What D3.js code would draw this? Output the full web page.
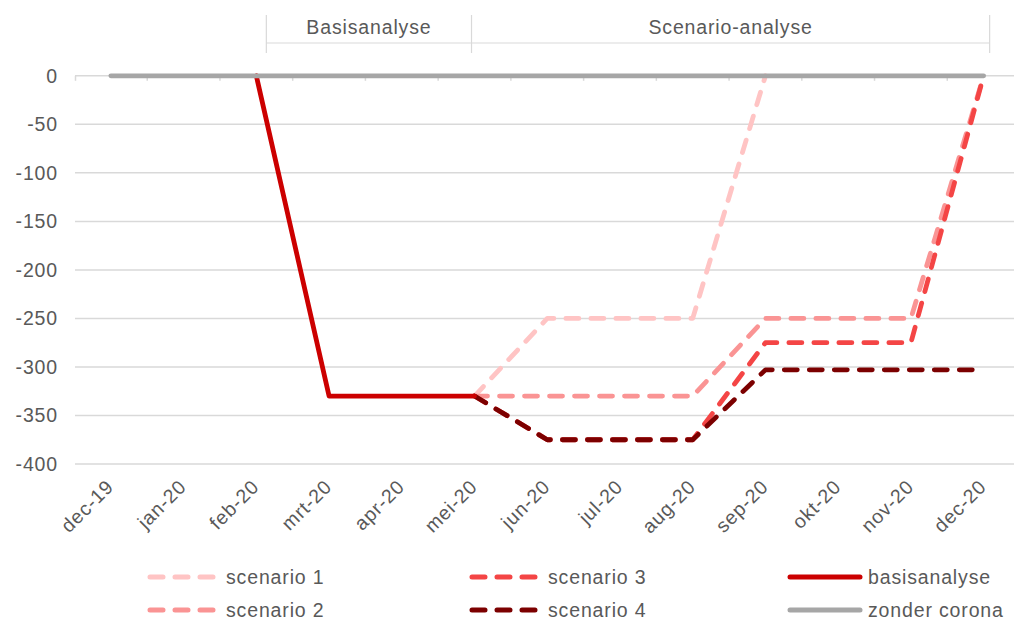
<!DOCTYPE html>
<html><head><meta charset="utf-8">
<script src="https://cdn.jsdelivr.net/npm/d3@7"></script>
<style>
html,body{margin:0;padding:0;background:#fff;}
svg{display:block;font-family:"Liberation Sans",Arial,sans-serif;}
svg text{letter-spacing:0.85px;}
</style></head>
<body><svg id="c" width="1014" height="622"></svg>
<script>
const months = ["dec-19","jan-20","feb-20","mrt-20","apr-20","mei-20","jun-20","jul-20","aug-20","sep-20","okt-20","nov-20","dec-20"];
const yTicks = [0,-50,-100,-150,-200,-250,-300,-350,-400];
const zonderCorona = [0,0,0,0,0,0,0,0,0,0,0,0,0];
const basisanalyse = [null,null,0,-330,-330,-330,null,null,null,null,null,null,null];
const scenario1 = [null,null,null,null,null,-330,-250,-250,-250,0,null,null,null];
const scenario2 = [null,null,null,null,null,-330,-330,-330,-330,-250,-250,-250,0];
const scenario3 = [null,null,null,null,null,-330,-375,-375,-375,-275,-275,-275,0];
const scenario4 = [null,null,null,null,null,-330,-375,-375,-375,-303,-303,-303,-303];
const seriesNames = ["scenario 1","scenario 2","scenario 3","scenario 4","basisanalyse","zonder corona"];
const sectionLabels = ["Basisanalyse","Scenario-analyse"];

const series = [
  {name:seriesNames[0], values:scenario1, color:"#ffc4c4", dash:true},
  {name:seriesNames[1], values:scenario2, color:"#fa9494", dash:true},
  {name:seriesNames[2], values:scenario3, color:"#f44545", dash:true},
  {name:seriesNames[3], values:scenario4, color:"#7c0000", dash:true},
  {name:seriesNames[4], values:basisanalyse, color:"#cc0000", dash:false},
  {name:seriesNames[5], values:zonderCorona, color:"#a6a6a6", dash:false}
];

const svg = d3.select("#c");
const textColor = "#595959", gridColor = "#d9d9d9";
const fs = "19.5px";
const x = d3.scaleBand().domain(months).range([74.5, 1020]).paddingInner(0).paddingOuter(0);
const xc = m => x(m) + x.bandwidth()/2;
const y = d3.scaleLinear().domain([-400,0]).range([464,75.8]);

// gridlines
svg.append("g").selectAll("line").data(yTicks).join("line")
  .attr("x1",75).attr("x2",1014).attr("y1",d=>y(d)).attr("y2",d=>y(d))
  .attr("stroke",gridColor).attr("stroke-width",1.5);

// y labels
svg.append("g").selectAll("text").data(yTicks).join("text")
  .attr("x",58).attr("y",d=>y(d)).attr("dy","0.35em").attr("text-anchor","end")
  .attr("fill",textColor).style("font-size",fs).text(d=>d);

// x axis ticks at band boundaries
const bounds = months.map(m=>x(m));
svg.append("g").selectAll("line").data(bounds).join("line")
  .attr("x1",d=>Math.max(d,75.5)).attr("x2",d=>Math.max(d,75.5)).attr("y1",y(0)).attr("y2",y(0)+5)
  .attr("stroke",gridColor).attr("stroke-width",1.5);

// x labels
svg.append("g").selectAll("text").data(months).join("text")
  .attr("transform",d=>`translate(${xc(d)+4},${488}) rotate(-45)`)
  .attr("text-anchor","end").attr("fill",textColor).style("font-size",fs).text(d=>d);

// lines
const line = d3.line().defined(d=>d.v!==null).x(d=>xc(d.m)).y(d=>y(d.v));
series.forEach(s=>{
  svg.append("path").datum(s.values.map((v,i)=>({m:months[i],v})))
    .attr("d",line).attr("fill","none").attr("stroke",s.color)
    .attr("stroke-width",s.dash?4.8:4.8)
    .attr("stroke-linejoin","round")
    .attr("stroke-linecap","round")
    .attr("stroke-dasharray",s.dash?"13,12":null);
});

// section brackets
const bx = [xc("feb-20")+10, xc("mei-20")-3, xc("dec-20")+6];
const bg = svg.append("g");
bx.forEach(v=>bg.append("line").attr("x1",v).attr("x2",v).attr("y1",15).attr("y2",53).attr("stroke",gridColor).attr("stroke-width",1.2));
bg.append("line").attr("x1",bx[0]).attr("x2",bx[2]).attr("y1",43).attr("y2",43).attr("stroke",gridColor).attr("stroke-width",1.2);
sectionLabels.forEach((t,i)=>{
  bg.append("text").attr("x",(bx[i]+bx[i+1])/2).attr("y",34).attr("text-anchor","middle")
    .attr("fill",textColor).style("font-size",fs).text(t);
});

// legend
const legCols = [148,470,790], legRows = [577,610];
const lg = svg.append("g");
series.forEach((s,k)=>{
  const col = Math.floor(k/2), row = k%2;
  const lx = legCols[col], ly = legRows[row];
  lg.append("line").attr("x1",lx+(s.dash?2:0)).attr("x2",lx+70-(s.dash?2:0)).attr("y1",ly).attr("y2",ly)
    .attr("stroke",s.color).attr("stroke-width",5)
    .attr("stroke-linecap","round").attr("stroke-dasharray",s.dash?"13,12":null);
  lg.append("text").attr("x",lx+78).attr("y",ly).attr("dy","0.35em")
    .attr("fill",textColor).style("font-size",fs).text(s.name);
});
</script></body></html>
